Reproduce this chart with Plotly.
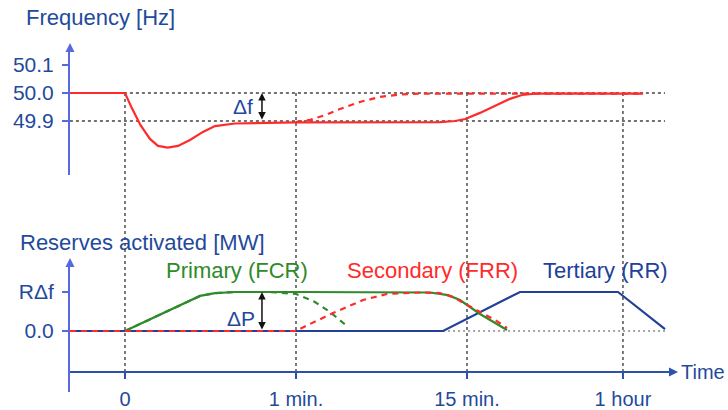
import plotly.graph_objects as go

W, H = 728, 410

# ---- time axis (schematic, labelled instants) ----
time_ticks = [0, 1, 2, 2.912]
time_labels = ["0", "1 min.", "15 min.", "1 hour"]

# ---- frequency panel (Hz) ----
freq_ticks = [50.1, 50.0, 49.9]
freq_ref = [50.0, 49.9]
freq_t = [-0.32, 0.0, 0.04, 0.09, 0.146, 0.193, 0.25, 0.31, 0.38, 0.456, 0.526,
          0.643, 1.0, 1.608, 1.842, 1.93, 1.99, 2.076, 2.164, 2.251, 2.322, 2.398, 3.03]
freq_hz = [50.0, 50.0, 49.946, 49.886, 49.836, 49.811, 49.805, 49.811, 49.832, 49.861,
           49.882, 49.891, 49.895, 49.895, 49.896, 49.9, 49.907, 49.929, 49.954, 49.979,
           49.993, 49.998, 49.998]
# frequency restored by secondary control alone
freq_frr_t = [1.0, 1.082, 1.17, 1.257, 1.374, 1.491, 1.608, 1.725, 3.03]
freq_frr_hz = [49.896, 49.904, 49.921, 49.943, 49.968, 49.986, 49.995, 49.998, 49.998]

# ---- reserves panel (units of R*delta f) ----
res_ticks = [1, 0]
res_labels = ["RΔf", "0.0"]
fcr_t = [0.0, 0.439, 0.526, 0.643, 1.0, 1.608, 1.784, 1.889, 1.959, 2.076, 2.234]
fcr_p = [0.0, 0.9, 0.97, 1.0, 1.0, 1.0, 0.987, 0.92, 0.795, 0.436, 0.026]
fcr_alone_t = [0.0, 0.439, 0.526, 0.643, 0.848, 0.936, 1.0, 1.111, 1.199, 1.304]
fcr_alone_p = [0.0, 0.9, 0.97, 1.0, 1.0, 0.974, 0.949, 0.744, 0.487, 0.103]
frr_t = [-0.322, 1.0, 1.082, 1.216, 1.392, 1.532, 1.725, 1.842, 1.918, 2.0, 2.076, 2.164, 2.234]
frr_p = [0.0, 0.0, 0.18, 0.46, 0.795, 0.949, 0.987, 0.974, 0.872, 0.667, 0.487, 0.282, 0.077]
rr_t = [-0.322, 1.86, 2.31, 2.883, 3.158]
rr_p = [0.0, 0.0, 1.0, 1.0, 0.05]

RED = "#ff2b2b"
GREEN = "#2f8a2a"
NAVY = "#22409a"
AXIS = "#5868de"
XAXIS = "#2d52ad"
TXT = "#1f4a9c"
FONT = "Liberation Sans, Arial, sans-serif"
LW = 2.2


def px(x):
    return x / W


def py(y):
    return 1 - y / H


fig = go.Figure()

fig.add_trace(go.Scatter(x=freq_frr_t, y=freq_frr_hz, mode="lines", yaxis="y",
                         line=dict(color=RED, width=LW, dash="6px,5px")))
fig.add_trace(go.Scatter(x=freq_t, y=freq_hz, mode="lines", yaxis="y",
                         line=dict(color=RED, width=LW)))

fig.add_trace(go.Scatter(x=rr_t, y=rr_p, mode="lines", yaxis="y2",
                         line=dict(color=NAVY, width=LW)))
fig.add_trace(go.Scatter(x=fcr_t, y=fcr_p, mode="lines", yaxis="y2",
                         line=dict(color=GREEN, width=LW)))
fig.add_trace(go.Scatter(x=fcr_alone_t, y=fcr_alone_p, mode="lines", yaxis="y2",
                         line=dict(color=GREEN, width=LW, dash="6px,5px")))
fig.add_trace(go.Scatter(x=frr_t, y=frr_p, mode="lines", yaxis="y2",
                         line=dict(color=RED, width=LW, dash="6px,5px")))

shapes = []
# vertical guides through both panels
for t in time_ticks:
    shapes.append(dict(type="line", xref="x", yref="paper", x0=t, x1=t,
                       y0=py(93), y1=py(372), layer="below",
                       line=dict(color="#333333", width=1.3, dash="3px,3px")))
# frequency reference levels
for f in freq_ref:
    shapes.append(dict(type="line", xref="x", yref="y", x0=-0.322, x1=3.158,
                       y0=f, y1=f, layer="below",
                       line=dict(color="#444444", width=1.3, dash="3px,3px")))
# zero level after tertiary activation begins
shapes.append(dict(type="line", xref="x", yref="y2", x0=1.86, x1=3.158, y0=0, y1=0,
                   layer="below", line=dict(color="#888888", width=1.3, dash="2px,3px")))


def label(text, x, y, color, size=22, anchor="center"):
    return dict(text=text, x=px(x), y=py(y), xref="paper", yref="paper",
                xanchor=anchor, yanchor="middle", showarrow=False,
                font=dict(size=size, color=color))


annotations = [
    label("Frequency [Hz]", 24, 17, TXT, 22, "left"),
    label("Reserves activated [MW]", 18, 242, TXT, 22, "left"),
    label("Primary (FCR)", 237, 270, GREEN),
    label("Secondary (FRR)", 432, 270, RED),
    label("Tertiary (RR)", 605, 270, NAVY),
    label("Time", 727, 372, TXT, 20, "right"),
    label("Δf", 243, 106, TXT, 21),
    label("ΔP", 241, 318, TXT, 21),
    # delta f and delta P double arrows
    dict(x=0.801, y=freq_ref[0], ax=0.801, ay=freq_ref[1], xref="x", yref="y",
         axref="x", ayref="y", text="", showarrow=True, arrowside="end+start",
         arrowhead=2, arrowsize=1, arrowwidth=1.5, arrowcolor="#111111"),
    dict(x=0.801, y=res_ticks[0], ax=0.801, ay=res_ticks[1], xref="x", yref="y2",
         axref="x", ayref="y2", text="", showarrow=True, arrowside="end+start",
         arrowhead=2, arrowsize=1, arrowwidth=1.5, arrowcolor="#111111"),
    # axis arrow heads
    dict(x=px(70), y=py(43), xref="paper", yref="paper", ax=0, ay=10, text="",
         showarrow=True, arrowhead=2, arrowsize=1, arrowwidth=1.8, arrowcolor=AXIS),
    dict(x=px(70), y=py(258), xref="paper", yref="paper", ax=0, ay=10, text="",
         showarrow=True, arrowhead=2, arrowsize=1, arrowwidth=1.8, arrowcolor=AXIS),
    dict(x=px(678), y=py(372), xref="paper", yref="paper", ax=-10, ay=0, text="",
         showarrow=True, arrowhead=2, arrowsize=1, arrowwidth=1.8, arrowcolor=XAXIS),
]

fig.update_layout(
    width=W, height=H,
    margin=dict(l=0, r=0, t=0, b=0),
    paper_bgcolor="white", plot_bgcolor="white",
    showlegend=False,
    font=dict(family=FONT, color=TXT),
    xaxis=dict(domain=[px(70), px(670)], range=[-0.3216, (670 - 125) / 171],
               anchor="free", position=py(372),
               showline=True, linecolor=XAXIS, linewidth=2,
               showgrid=False, zeroline=False,
               tickmode="array", tickvals=time_ticks, ticktext=time_labels,
               ticks="outside", ticklen=6, tickwidth=1.5, tickcolor=XAXIS,
               tickfont=dict(size=20, color=TXT), ticklabelstandoff=3),
    yaxis=dict(domain=[py(175), py(48)],
               range=[50.0 - (175 - 93) / 280, 50.0 + (93 - 48) / 280],
               anchor="x", showline=True, linecolor=AXIS, linewidth=2,
               showgrid=False, zeroline=False,
               tickmode="array", tickvals=freq_ticks,
               ticktext=["%.1f" % v for v in freq_ticks],
               ticks="outside", ticklen=6, tickwidth=1.5, tickcolor=AXIS,
               tickfont=dict(size=21, color=TXT), ticklabelstandoff=4),
    yaxis2=dict(domain=[py(392), py(263)],
                range=[-(392 - 331) / 39, (331 - 263) / 39],
                anchor="x", showline=True, linecolor=AXIS, linewidth=2,
                showgrid=False, zeroline=False,
                tickmode="array", tickvals=res_ticks, ticktext=res_labels,
                ticks="outside", ticklen=6, tickwidth=1.5, tickcolor=AXIS,
                tickfont=dict(size=21, color=TXT), ticklabelstandoff=4),
    shapes=shapes,
    annotations=annotations,
)

fig.write_html("out.html")
